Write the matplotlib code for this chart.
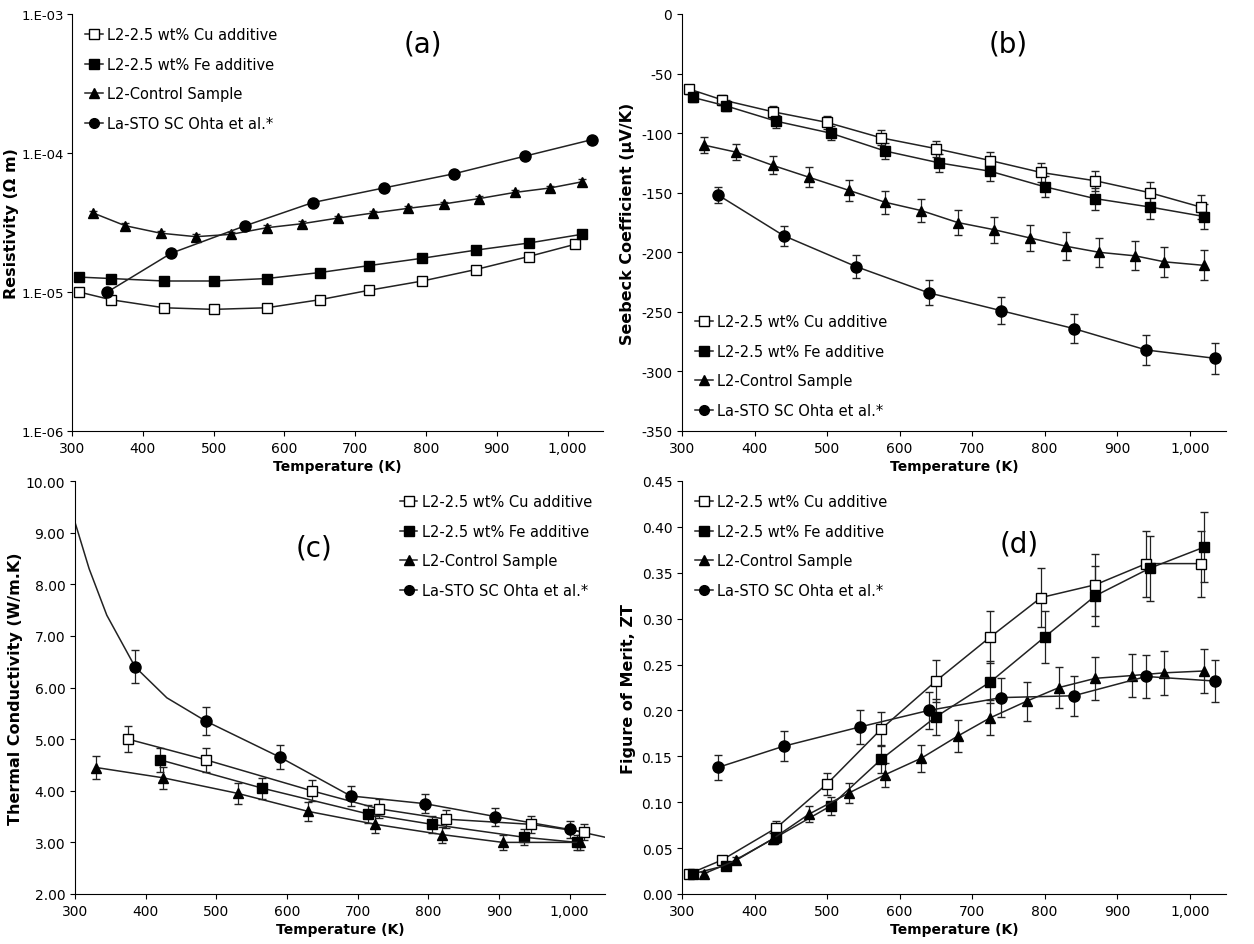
import math
import matplotlib
matplotlib.use('Agg')
import matplotlib.pyplot as plt
import matplotlib.ticker as mticker

labels = ['L2-2.5 wt% Cu additive', 'L2-2.5 wt% Fe additive', 'L2-Control Sample', 'La-STO SC Ohta et al.*']

# (a) resistivity
a_cu_t = [310, 355, 430, 500, 575, 650, 720, 795, 870, 945, 1010]
a_cu = [1.0e-5, 8.8e-6, 7.7e-6, 7.5e-6, 7.7e-6, 8.8e-6, 1.03e-5, 1.2e-5, 1.45e-5, 1.8e-5, 2.2e-5]
a_fe_t = [310, 355, 430, 500, 575, 650, 720, 795, 870, 945, 1020]
a_fe = [1.28e-5, 1.25e-5, 1.2e-5, 1.2e-5, 1.25e-5, 1.38e-5, 1.55e-5, 1.75e-5, 2.0e-5, 2.25e-5, 2.6e-5]
a_ct_t = [330, 375, 425, 475, 525, 575, 625, 675, 725, 775, 825, 875, 925, 975, 1020]
a_ct = [3.7e-5, 3.0e-5, 2.65e-5, 2.5e-5, 2.6e-5, 2.9e-5, 3.1e-5, 3.4e-5, 3.7e-5, 4.0e-5, 4.3e-5, 4.7e-5, 5.2e-5, 5.6e-5, 6.2e-5]
a_la_t = [350, 440, 545, 640, 740, 840, 940, 1035]
a_la = [1.0e-5, 1.9e-5, 3.0e-5, 4.4e-5, 5.6e-5, 7.1e-5, 9.5e-5, 1.25e-4]

# (b) Seebeck
b_cu_t = [310, 355, 425, 500, 575, 650, 725, 795, 870, 945, 1015]
b_cu = [-63, -72, -82, -91, -104, -113, -123, -133, -140, -150, -162]
b_fe_t = [315, 360, 430, 505, 580, 655, 725, 800, 870, 945, 1020]
b_fe = [-70, -77, -90, -100, -115, -125, -132, -145, -155, -162, -170]
b_ct_t = [330, 375, 425, 475, 530, 580, 630, 680, 730, 780, 830, 875, 925, 965, 1020]
b_ct = [-110, -116, -127, -137, -148, -158, -165, -175, -181, -188, -195, -200, -203, -208, -211]
b_la_t = [350, 440, 540, 640, 740, 840, 940, 1035]
b_la = [-152, -186, -212, -234, -249, -264, -282, -289]

# (c) thermal conductivity
c_cu_t = [375, 485, 635, 730, 825, 945, 1020]
c_cu = [5.0, 4.6, 4.0, 3.65, 3.45, 3.35, 3.2]
c_fe_t = [420, 565, 715, 805, 935, 1010]
c_fe = [4.6, 4.05, 3.55, 3.35, 3.1, 3.0]
c_ct_t = [330, 425, 530, 630, 725, 820, 905, 1015]
c_ct = [4.45, 4.25, 3.95, 3.6, 3.35, 3.15, 3.0, 3.0]
c_la_t = [385, 485, 590, 690, 795, 895, 1000]
c_la = [6.4, 5.35, 4.65, 3.9, 3.75, 3.5, 3.25]
c_la_line_t = [300, 320, 345, 385, 430, 485, 590, 690, 795, 895, 1000, 1050]
c_la_line = [9.2, 8.3, 7.4, 6.4, 5.8, 5.35, 4.65, 3.9, 3.75, 3.5, 3.25, 3.1]

# (d) ZT
d_cu_t = [310, 355, 430, 500, 575, 650, 725, 795, 870, 940, 1015]
d_cu = [0.022, 0.037, 0.072, 0.12, 0.18, 0.232, 0.28, 0.323, 0.337, 0.36, 0.36]
d_fe_t = [315, 360, 430, 505, 575, 650, 725, 800, 870, 945, 1020]
d_fe = [0.022, 0.031, 0.062, 0.096, 0.147, 0.193, 0.231, 0.28, 0.325, 0.355, 0.378]
d_ct_t = [330, 375, 425, 475, 530, 580, 630, 680, 725, 775, 820, 870, 920, 965, 1020]
d_ct = [0.022, 0.037, 0.06, 0.087, 0.11, 0.13, 0.148, 0.172, 0.192, 0.21, 0.225, 0.235, 0.238, 0.241, 0.243]
d_la_t = [350, 440, 545, 640, 740, 840, 940, 1035]
d_la = [0.138, 0.161, 0.182, 0.2, 0.214, 0.216, 0.237, 0.232]

styles = [dict(marker='s', mfc='white'), dict(marker='s', mfc='black'),
          dict(marker='^', mfc='black'), dict(marker='o', mfc='black')]


def draw(ax, series, err, legend_loc='upper left', noline=()):
    handles = []
    for i, (t, v) in enumerate(series):
        kw = dict(color='#222222', mec='black', ms=7 if i != 3 else 8, lw=1.1, **styles[i])
        if i in noline:
            kw['ls'] = 'none'
        ax.errorbar(t, v, yerr=[abs(x) * err[i] for x in v], capsize=3, elinewidth=0.9, **kw)
        h, = ax.plot([], [], color='#222222', mec='black', ms=7, lw=1.1, label=labels[i], **styles[i])
        handles.append(h)
    for s in ['top', 'right']:
        ax.spines[s].set_visible(False)
    ax.set_xlim(300, 1050)
    ax.set_xticks(range(300, 1001, 100))
    ax.xaxis.set_major_formatter(mticker.FuncFormatter(lambda x, p: f'{int(x):,}'))
    ax.set_xlabel('Temperature (K)', fontweight='bold', fontsize=10, labelpad=3)
    ax.tick_params(labelsize=10, direction='out')
    ax.legend(handles=handles, loc=legend_loc, frameon=False, fontsize=10.5,
              handlelength=1.2, handletextpad=0.3, labelspacing=1.0)


fig = plt.figure(figsize=(12.54, 9.45), dpi=100)
W, H = 1254, 945
def box(l, t, r, b):
    return fig.add_axes([l / W, 1 - b / H, (r - l) / W, (b - t) / H])

ax = box(72, 15, 603, 432)
draw(ax, [(a_cu_t, a_cu), (a_fe_t, a_fe), (a_ct_t, a_ct), (a_la_t, a_la)], [0.04] * 4)
ax.set_yscale('log')
ax.set_ylim(1e-6, 1e-3)
ax.yaxis.set_major_formatter(mticker.FuncFormatter(lambda y, p: f'1.E-{abs(int(round(math.log10(y)))):02d}'))
ax.yaxis.set_minor_locator(mticker.NullLocator())
ax.tick_params(axis='y', labelsize=9.5, pad=2)
ax.set_ylabel('Resistivity (Ω m)', fontweight='bold', fontsize=11.5, labelpad=2)
ax.text(0.66, 0.91, '(a)', transform=ax.transAxes, fontsize=20, ha='center')

ax = box(682, 15, 1226, 432)
draw(ax, [(b_cu_t, b_cu), (b_fe_t, b_fe), (b_ct_t, b_ct), (b_la_t, b_la)], [0.06, 0.06, 0.06, 0.045],
     legend_loc='lower left')
ax.set_ylim(-350, 0)
ax.set_yticks(range(-350, 1, 50))
ax.yaxis.set_major_formatter(mticker.FuncFormatter(lambda y, p: f'{int(y)}'))
ax.set_ylabel('Seebeck Coefficient (µV/K)', fontweight='bold', fontsize=11.5)
ax.text(0.6, 0.91, '(b)', transform=ax.transAxes, fontsize=20, ha='center')

ax = box(75, 482, 605, 895)
draw(ax, [(c_cu_t, c_cu), (c_fe_t, c_fe), (c_ct_t, c_ct), (c_la_t, c_la)], [0.05] * 4,
     legend_loc='upper right', noline=(3,))
ax.plot(c_la_line_t, c_la_line, color='#222222', lw=1.1)
ax.set_ylim(2, 10)
ax.yaxis.set_major_formatter(mticker.FormatStrFormatter('%.2f'))
ax.set_ylabel('Thermal Conductivity (W/m.K)', fontweight='bold', fontsize=11.5, labelpad=2)
ax.text(0.45, 0.82, '(c)', transform=ax.transAxes, fontsize=20, ha='center')

ax = box(682, 482, 1226, 895)
draw(ax, [(d_cu_t, d_cu), (d_fe_t, d_fe), (d_ct_t, d_ct), (d_la_t, d_la)], [0.1] * 4)
ax.set_ylim(0, 0.45)
ax.set_yticks([i * 0.05 for i in range(10)])
ax.yaxis.set_major_formatter(mticker.FormatStrFormatter('%.2f'))
ax.set_ylabel('Figure of Merit, ZT', fontweight='bold', fontsize=11.5)
ax.text(0.62, 0.83, '(d)', transform=ax.transAxes, fontsize=20, ha='center')

fig.savefig('out.png')
